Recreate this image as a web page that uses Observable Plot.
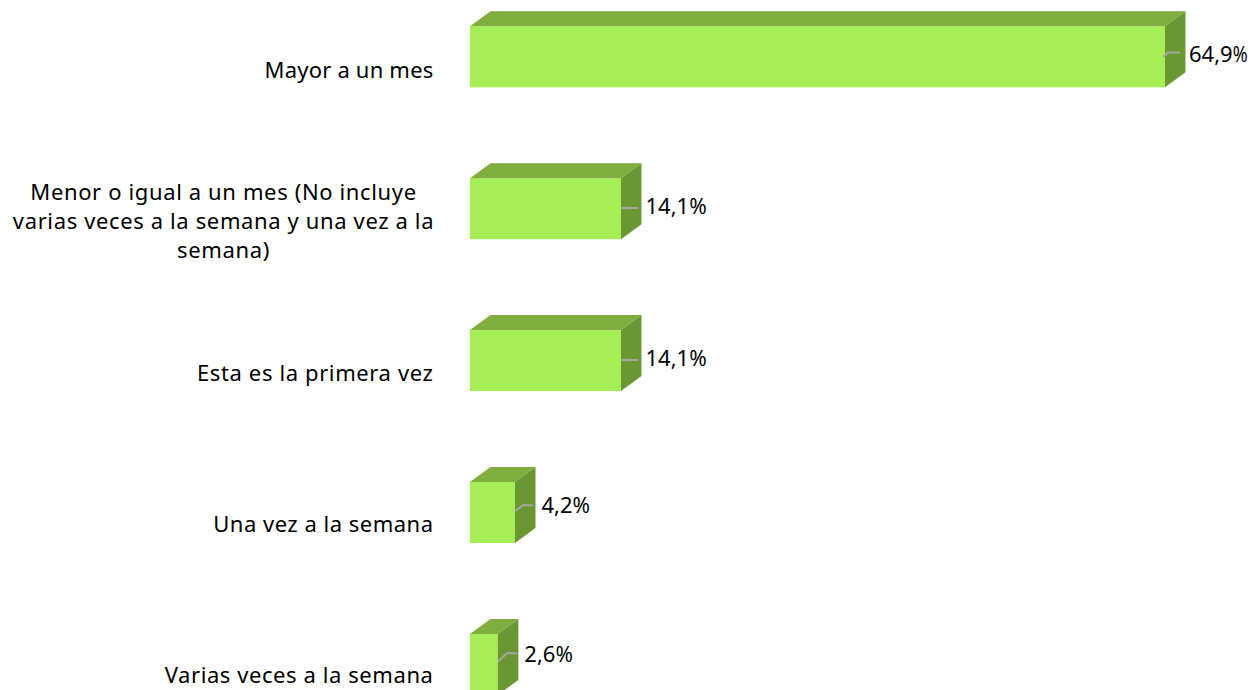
<!DOCTYPE html>
<html><head><meta charset="utf-8">
<style>html,body{margin:0;padding:0;background:#fff;overflow:hidden}svg{display:block}</style>
<script src="https://cdn.jsdelivr.net/npm/d3@7"></script>
<script src="https://cdn.jsdelivr.net/npm/@observablehq/plot@0.6"></script>
</head><body><div id="chart"></div>
<script>
const categories = ["Mayor a un mes","Menor o igual a un mes (No incluye\nvarias veces a la semana y una vez a la\nsemana)","Esta es la primera vez","Una vez a la semana","Varias veces a la semana"];
const values = [64.9,14.1,14.1,4.2,2.6];
const valueLabels = ["64,9%","14,1%","14,1%","4,2%","2,6%"];
const data = categories.map((c,i)=>({category:c,value:values[i],label:valueLabels[i]}));

// layout (pixels, not data)
const depthX=20.5, depthY=15;
const leaderLift=[[-0.2,4.3],[0.7,0.7],[0.6,0.6],[1.5,7.2],[2.7,11.1]]; // start/end rise from bar centre
const leaderX=[[-2,3,15],[0,0,17],[0,0,17],[0,8,18],[0,9,19]];
const labelDx=[23.5,24,24,26,26], labelDy=[-2.3,-2.2,-2.1,-7,-9.9];
const percentWidth=[15,17.5,17.5,17.5,17.5];
const categoryDy=[11.7,10.8,10.5,9.5,9.3];
const categorySpacing=[0.2,0.63,0.62,0.5,0.58];
const fontFamily='"Noto Sans",Tahoma,sans-serif';

function faces(index,scales,vals,dims,ctx,next){
  const g=next(index,scales,vals,dims,ctx);
  const bw=scales.y.bandwidth();
  const sel=d3.select(g);
  for(const i of index){
    const d=data[i],x0=scales.x(0),x1=scales.x(d.value),y=scales.y(d.category);
    sel.append("polygon").attr("fill","#80ae3e")
      .attr("points",[[x0,y],[x0+depthX,y-depthY],[x1+depthX,y-depthY],[x1,y]].join(" "));
    sel.append("polygon").attr("fill","#6b9733")
      .attr("points",[[x1,y],[x1+depthX,y-depthY],[x1+depthX,y+bw-depthY],[x1,y+bw]].join(" "));
    const c=y+bw/2,[a,b]=leaderLift[i],[p,q,r]=leaderX[i];
    sel.append("polyline").attr("fill","none").attr("stroke","#a6a6a6").attr("stroke-width",2)
      .attr("points",[[x1+p,c-a],[x1+q,c-b],[x1+r,c-b]].join(" "));
  }
  return g;
}
const narrowPercent=w=>function(index,scales,vals,dims,ctx,next){
  const g=next(index,scales,vals,dims,ctx);
  d3.select(g).selectAll("text").each(function(){
    const t=this.textContent; this.textContent=t.slice(0,-1);
    d3.select(this).append("tspan").attr("textLength",w).attr("lengthAdjust","spacingAndGlyphs").text(t.slice(-1));
  });
  return g;
};
const spaced=s=>function(index,scales,vals,dims,ctx,next){
  const g=next(index,scales,vals,dims,ctx);
  g.style.letterSpacing=s+"px";
  return g;
};
const isWrapped=d=>d.category.includes("\n");
const chart=Plot.plot({
  width:1251,height:690,
  marginLeft:470,marginRight:86,marginTop:0,marginBottom:0,
  style:{background:"#fff",fontFamily,color:"#000"},
  x:{domain:[0,64.9],axis:null},
  y:{type:"band",domain:categories,range:[26.3,694.9],paddingInner:0.5984,paddingOuter:0,round:false,axis:null},
  marks:[
    Plot.barX(data,{x:"value",y:"category",fill:"#a6ee55",insetTop:0,insetBottom:0,render:faces}),
    ...data.map((d,i)=>Plot.text([d],{x:()=>0,y:"category",text:"category",
      textAnchor:isWrapped(d)?"middle":"end",dx:isWrapped(d)?-247:-37,dy:categoryDy[i],lineHeight:1.32,fontSize:22,fill:"#000",render:spaced(categorySpacing[i])})),
    ...data.map((d,i)=>Plot.text([d],{x:"value",y:"category",text:"label",textAnchor:"start",dx:labelDx[i],dy:labelDy[i],fontSize:22,fill:"#000",render:narrowPercent(percentWidth[i])}))
  ]
});
document.getElementById("chart").append(chart);
</script></body></html>
